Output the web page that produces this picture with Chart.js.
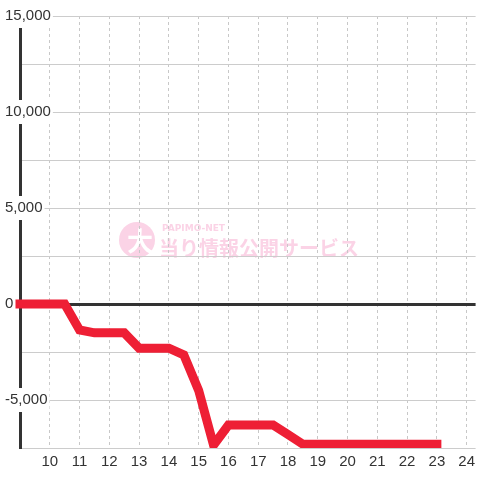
<!DOCTYPE html>
<html>
<head>
<meta charset="utf-8">
<script src="https://cdn.jsdelivr.net/npm/chart.js@4"></script>
<style>
html, body { margin: 0; padding: 0; background: #fff; }
#wrap { width: 480px; height: 480px; }
</style>
</head>
<body>
<div id="wrap"><canvas id="graph" width="480" height="480"></canvas></div>
<script>
// hours (x) and running balance (y)
const times = [9, 9.5, 10, 10.5, 11, 11.5, 12, 12.5, 13, 13.5, 14, 14.5, 15, 15.5, 16, 16.5, 17, 17.5, 18, 18.5, 19, 19.5, 20, 20.5, 21, 21.5, 22, 22.5, 23];
const balance = [0, 0, 0, 0, -1350, -1500, -1500, -1500, -2300, -2300, -2300, -2650, -4500, -7350, -6300, -6300, -6300, -6300, -6800, -7300, -7300, -7300, -7300, -7300, -7300, -7300, -7300, -7300, -7300];

const hourTicks = [9, 10, 11, 12, 13, 14, 15, 16, 17, 18, 19, 20, 21, 22, 23, 24];
const valueTicks = [-7500, -5000, -2500, 0, 2500, 5000, 7500, 10000, 12500, 15000];
const labelledValues = [-5000, 0, 5000, 10000, 15000];

const tickFont = { family: '"Liberation Sans", Arial, sans-serif', size: 15 };

// faint site logo behind the grid
const watermark = {
    id: 'watermark',
    beforeDraw(chart) {
        const c = chart.ctx;
        c.save();
        c.fillStyle = '#fbd3e6';
        c.beginPath();
        c.arc(137, 240, 18, 0, Math.PI * 2);
        c.fill();
        c.fillStyle = '#ffffff';
        c.textAlign = 'center';
        c.textBaseline = 'middle';
        c.font = 'bold 26px "Noto Sans CJK JP"';
        c.fillText('大', 140, 241);
        c.fillStyle = '#fbd3e6';
        c.textAlign = 'left';
        c.textBaseline = 'alphabetic';
        c.font = 'bold 9px "DejaVu Sans"';
        c.fillText('PAPIMO-NET', 162, 231);
        c.font = 'bold 20px "Noto Sans CJK JP"';
        c.fillText('当り情報公開サービス', 159, 256);
        c.restore();
    }
};

new Chart(document.getElementById('graph'), {
    type: 'line',
    data: {
        datasets: [{
            data: times.map((t, i) => ({ x: t, y: balance[i] })),
            borderColor: '#ee1f35',
            borderWidth: 9,
            borderCapStyle: 'square',
            pointRadius: 0,
            tension: 0,
            clip: { left: 8, top: 8, right: 8, bottom: 0 }
        }]
    },
    options: {
        responsive: false,
        animation: false,
        events: [],
        layout: { padding: { top: 16, left: 20, right: 0, bottom: 0 } },
        plugins: { legend: { display: false }, tooltip: { enabled: false } },
        scales: {
            x: {
                type: 'linear',
                min: 9,
                max: 24.3,
                afterBuildTicks: s => { s.ticks = hourTicks.map(v => ({ value: v })); },
                afterFit: s => { s.height = 32; },
                grid: {
                    drawTicks: false,
                    lineWidth: 1,
                    color: ctx => (ctx.tick && ctx.tick.value === 9) ? 'rgba(0,0,0,0)' : '#c8c8c8'
                },
                border: { display: false, dash: [3, 3] },
                ticks: {
                    padding: 5,
                    color: '#333',
                    font: tickFont,
                    maxRotation: 0,
                    autoSkip: false,
                    callback: v => v === 9 ? '' : String(v)
                }
            },
            y: {
                min: -7500,
                max: 15000,
                afterBuildTicks: s => { s.ticks = valueTicks.map(v => ({ value: v })); },
                afterFit: s => { s.width = 0; },
                grid: {
                    drawTicks: false,
                    color: ctx => (ctx.tick && ctx.tick.value === 0) ? '#333' : '#cccccc',
                    lineWidth: ctx => (ctx.tick && ctx.tick.value === 0) ? 3 : 1
                },
                border: { display: true, color: '#333', width: 3 },
                ticks: {
                    mirror: true,
                    padding: -15,
                    color: '#333',
                    font: tickFont,
                    showLabelBackdrop: true,
                    backdropColor: '#ffffff',
                    backdropPadding: { top: 3, bottom: 3, left: 1, right: 2 },
                    callback: v => labelledValues.includes(v) ? v.toLocaleString('en-US') : ''
                }
            }
        }
    },
    plugins: [watermark]
});
</script>
</body>
</html>
